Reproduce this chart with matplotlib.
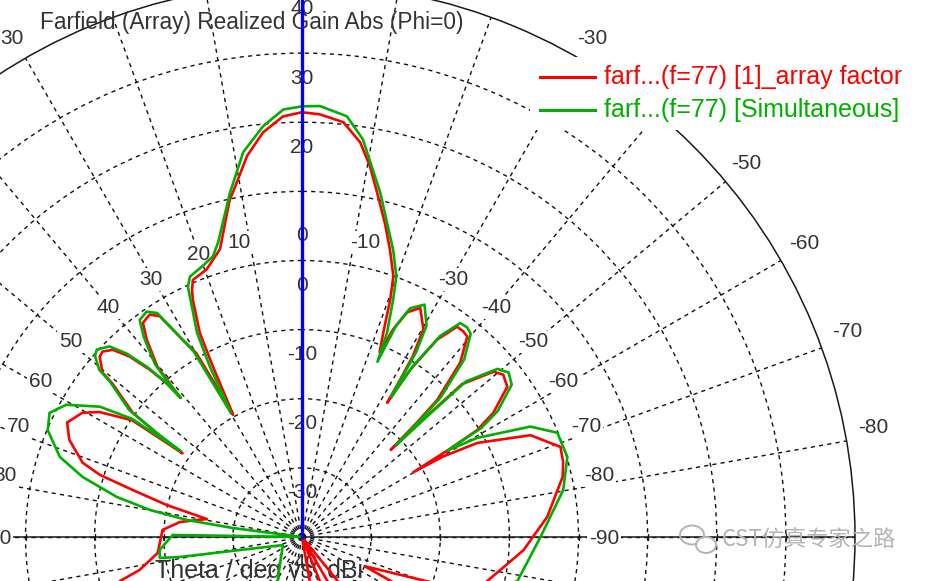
import numpy as np
import matplotlib
matplotlib.use("Agg")
import matplotlib.pyplot as plt
from matplotlib.transforms import offset_copy
from matplotlib.patches import Rectangle, Ellipse
from matplotlib.lines import Line2D

plt.rcParams['font.family'] = ['Liberation Sans', 'DejaVu Sans']

# ---------------- data (theta in deg, gain in dBi) ----------------
title_text = "Farfield (Array) Realized Gain Abs (Phi=0)"
xlabel_text = "Theta / deg vs. dBi"
legend_labels = ["farf...(f=77) [1]_array factor", "farf...(f=77) [Simultaneous]"]
series_colors = ["#ff0000", "#00b000"]

theta_red = [-180, -170, -164, -158, -150, -145, -141, -130, -121, -117, -115, -109, -105,
             -93.4, -85.3, -77, -74, -70.8, -66, -61.8, -60.3, -59.8, -59.2, -58.6, -57,
             -53.8, -51.1, -49.2, -46.3, -45.9, -45.5, -45.1, -44.6, -42.2, -39.5, -38.1,
             -36.4, -34.4, -32.9, -32.4, -32.0, -31.5, -30.3, -27.3, -25.1, -23.7, -22.8,
             -21.7, -20.4, -19.3, -17, -14.9, -12.3, -10.4, -8.4, -5.7, -2.4, 0, 2.6, 5.5,
             8.2, 11.3, 12.1, 15.9, 19.6, 23, 24, 24.7, 26.6, 27.6, 28.7, 29.4, 29.6, 29.9,
             31.4, 32.8, 34.4, 36.6, 38.2, 40.3, 40.8, 41.1, 41.4, 42.3, 43.7, 45.3, 47.1,
             48.3, 50.5, 51, 53.7, 54.6, 55.0, 55.5, 58.3, 60.5, 64, 67.3, 71.3, 72.9, 74.5,
             76.7, 79.3, 83, 87.1, 96.3, 101.5, 103.6, 110, 130, 150, 170, 180]
gain_red = [-22, -24, -40, -22, -18, -40, -25, -20, -22, -22, -30, -19, -13,
            -7.9, -4.4, -1.3, -0.7, -0.4, -3.8, -11.2, -16.5, -21.4, -15, -10.3, -7,
            -3.2, -2.6, -3.4, -8, -15, -22, -16.5, -12.1, -5.9, -2.4, -2.2,
            -2.2, -5.4, -11.2, -17, -13.6, -9.3, -5.2, -2.7, -4.1, -7.2, -11,
            -8.2, -3.4, 0, 3.5, 6.8, 11.0, 14.5, 17.7, 20.3, 21.2, 21.45, 20.9, 18.8,
            15.7, 10.9, 9.9, 3.3, 1.1, 0.4, -0.9, -2.2, -7, -12.2, -17.4, -19.7, -15, -9.3,
            -6.1, -2.0, -1.0, -1.4, -3.7, -7.6, -11, -13.3, -10.3, -7.3, -3.9, -1.5, -0.6,
            -0.8, -2.6, -4.7, -9.6, -14.8, -18.9, -10.2, -5.6, -3.5, -2.2, -3.5, -6.5, -9.4, -14.6,
            -19.9, -26, -22.2, -19.8, -19, -16, -12.9, -10, -15, -20, -22, -22]

theta_green = [-180, -160, -140, -120, -110, -101.6, -90, -79.8, -73.2, -67.8, -64.2, -60.5,
               -59.3, -58.7, -57.2, -54, -51.5, -49.3, -46.5, -46.1, -45.7, -45.3, -44.8,
               -42.4, -39.7, -38.3, -36.5, -34.5, -33, -32.5, -32.1, -31.7, -30.5, -27.8,
               -25.3, -24, -23.3, -22.6, -21, -19.9, -17.6, -15.2, -12.8, -8.7, -6.1, -2.4,
               0, 2.5, 5.4, 8.7, 11.8, 15.9, 17.6, 20, 23.3, 24.5, 27.2, 28.4, 29.8, 30.1,
               30.3, 31.6, 32.9, 34.6, 36.8, 38.4, 40.4, 40.9, 41.1, 41.4, 42.3, 43.7, 45.3,
               47.6, 48.8, 50.5, 51, 53.7, 54.4, 54.7, 55.2, 57.2, 60.7, 63.8, 67.2, 71.7,
               74.7, 77.8, 79.9, 81.6, 82.6, 83.5, 88.3, 89.1, 95.2, 98.4, 99.3, 112.8, 150,
               170, 180]
gain_green = [-22, -18, -20, -15, -15, -8.2, -5.5, -1.6, 0.1, -0.1, -3.3, -10.9,
              -15.5, -9.6, -6.3, -2.5, -1.8, -2.7, -7.3, -14.3, -21, -16, -11.5,
              -5.2, -1.8, -1.4, -1.5, -4.7, -10.5, -16, -13, -8.6, -4.5, -2.0,
              -3.4, -6.5, -12.4, -8, -3.2, 0.1, 3.6, 7.0, 11.1, 18.2, 21.2, 22.4,
              22.3, 21.9, 19.7, 16.3, 10.9, 4.3, 2.6, 1.8, 1.0, -0.2, -6.8, -12, -19.3, -14,
              -8.8, -5.5, -1.4, -0.4, -0.8, -3.2, -7.2, -10.6, -13.3, -10, -6.8, -3.3, -0.8,
              0.2, -0.2, -2, -4.2, -9, -14.5, -18.5, -10, -5.2, -0.9, 0.7, -0.1, -3.1,
              -7.1, -12.6, -17.6, -23.2, -30, -40, -40, -21.3, -19.3, -19.2, -22.1, -37, -33,
              -20, -22]

r_min, r_max = -40, 40
ring_values = [-30, -20, -10, 0, 10, 20, 30]
radial_labels = [40, 30, 20, 0, -10, -20, -30, -40]
inner_angle_labels = [a for a in range(-90, 100, 10) if a != -20]
outer_angle_labels = [a for a in range(-80, 90, 10) if a != -40]

# ---------------- layout (pixels) ----------------
W, H = 931, 581
cx, cy, R = 302, 537, 553
fig = plt.figure(figsize=(W / 100, H / 100), dpi=100)
fig.patch.set_facecolor('white')
ax = fig.add_axes([(cx - R) / W, (H - cy - R) / H, 2 * R / W, 2 * R / H], projection='polar')
ax.set_theta_zero_location('N')
ax.set_theta_direction(1)
ax.set_ylim(r_min, r_max)
ax.set_xticks(np.deg2rad(np.arange(0, 360, 10)))
ax.set_yticks(ring_values)
ax.set_xticklabels([])
ax.set_yticklabels([])
ax.tick_params(length=0)
grid_kw = dict(color='#111111', linestyle=(0, (3.0, 3.0)), linewidth=1.0)
ax.xaxis.grid(True, **grid_kw)
ax.yaxis.grid(True, **grid_kw)
ax.spines['polar'].set_edgecolor('#1a1a1a')
ax.spines['polar'].set_linewidth(1.1)

# horizontal axis (theta = +/-90) with ticks
for a in (np.pi / 2, -np.pi / 2):
    ax.plot([a, a], [r_min, r_max], color='#1a1a1a', lw=1.1, zorder=2.2)
    ax.plot(np.full(len(ring_values) + 1, a), ring_values + [r_max], ls='none',
            marker='|', ms=5, mew=1.0, color='#1a1a1a', zorder=2.2)

# curves
for th, g, col in ((theta_red, gain_red, series_colors[0]),
                   (theta_green, gain_green, series_colors[1])):
    ax.plot(np.deg2rad(th), np.clip(g, r_min, None), color=col, lw=1.9, zorder=5,
            solid_joinstyle='round')

# blue direction marker
ax.plot([0, 0], [r_min, r_max], color='#0000ff', lw=2.4, zorder=6)

label_color = '#333333'
dy_map = {30: 3, 40: 1, 50: -2, 60: -5, 70: -8, 80: -10}

# inner angle labels
for a in inner_angle_labels:
    a_pos = a * 1.2 if abs(a) == 10 else a
    tr = offset_copy(ax.transData, fig=fig, x=0, y=-dy_map.get(abs(a), 0) - 1, units='dots')
    ax.text(np.deg2rad(a_pos), 3.7, str(a), transform=tr, ha='center', va='center',
            fontsize=15, color=label_color, zorder=3,
            bbox=dict(boxstyle='square,pad=0.08', fc='white', ec='none'))

# outer angle labels
for a in outer_angle_labels:
    tr = offset_copy(ax.transData, fig=fig, x=0, y=-dy_map.get(abs(a), 0) - 1, units='dots')
    ax.text(np.deg2rad(a), 43.9, str(a), transform=tr, ha='center', va='center',
            fontsize=15, color=label_color, zorder=3)

# radial labels along theta = 0
tr_r = offset_copy(ax.transData, fig=fig, x=0, y=-25, units='dots')
for v in radial_labels:
    ax.text(0, v, str(v), transform=tr_r, ha='center', va='center', fontsize=15,
            color=label_color, zorder=3)

# title and axis text
ax.text(40 / W, 1 - 22 / H, title_text, transform=fig.transFigure, ha='left', va='center',
        fontsize=16.3, color=label_color, zorder=3)
ax.text(155 / W, 1 - 571 / H, xlabel_text, transform=fig.transFigure, ha='left', va='center',
        fontsize=18, color=label_color, zorder=3)

# legend
fig.add_artist(Rectangle((530 / W, 1 - 130 / H), 375 / W, 73 / H, transform=fig.transFigure,
                         fc='white', ec='none', zorder=10))
for i, (lab, col) in enumerate(zip(legend_labels, series_colors)):
    y = 1 - (77 + 33 * i) / H
    fig.add_artist(Line2D([540 / W, 595 / W], [y, y], transform=fig.transFigure, color=col,
                          lw=2.2, zorder=11))
    fig.text(604 / W, y, lab, color=col, fontsize=18, ha='left', va='center', zorder=11)

# watermark
wm = '#b4b4b4'
fig.add_artist(Ellipse((692 / W, 1 - 535 / H), 24 / W, 19 / H, transform=fig.transFigure,
                       fill=False, ec=wm, lw=1.4, zorder=12))
fig.add_artist(Ellipse((706 / W, 1 - 545 / H), 20 / W, 16 / H, transform=fig.transFigure,
                       fc='white', ec=wm, lw=1.4, zorder=12))
fig.text(722 / W, 1 - 540 / H, "CST仿真专家之路", color=wm, fontsize=16, ha='left', va='center',
         family=['Noto Sans CJK SC', 'DejaVu Sans'], zorder=12)

fig.savefig('out.png', dpi=100, facecolor='white')
